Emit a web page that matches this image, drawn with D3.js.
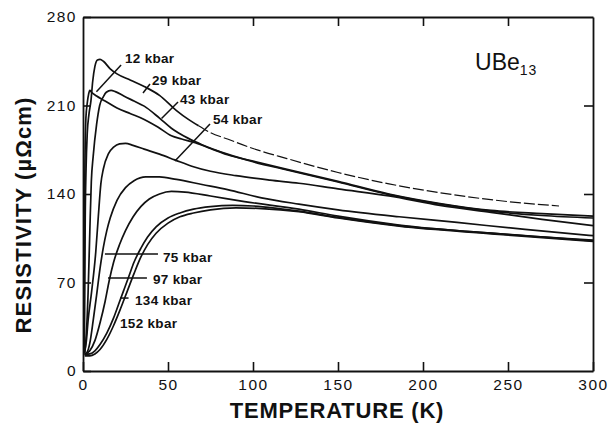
<!DOCTYPE html>
<html><head><meta charset="utf-8">
<script src="https://cdn.jsdelivr.net/npm/d3@7"></script>
<style>body{margin:0;background:#fff}svg{display:block}</style>
</head><body><svg id="chart" width="610" height="430"></svg>
<script>
// ---- data (temperature K, resistivity µΩcm) ----
const xTicks = [0, 50, 100, 150, 200, 250, 300];
const yTicks = [0, 70, 140, 210, 280];
const pressureLabels = ["12 kbar", "29 kbar", "43 kbar", "54 kbar", "75 kbar", "97 kbar", "134 kbar", "152 kbar"];

const s12 = [[0.6,15],[0.75,60],[0.9,120],[1.2,170],[1.7,200],[2.5,212],[3.3,219],[4,222],[5,220.5],[8,217.5],[12.7,213.8],[20,208],[28,203.5],[36,199],[44,193],[52,186],[58,183.5],[66,180.5],[75,176],[85,171],[100,166],[120,159.5],[150,150],[180,140],[210,132.5],[240,127],[270,124.5],[300,122.5]];
const s29 = [[0.8,15],[1.0,60],[1.3,120],[1.8,160],[2.5,188],[3.5,203],[4.7,214],[5.7,229],[7,241],[8.5,246],[10,246.5],[12,245],[16,239],[20,235],[28,230],[36,225],[45,218],[55,206],[62,199],[68,194]];
const s29tail = [[68,194],[75,188.5],[85,183.5],[100,176],[120,168],[150,157],[180,148],[210,141],[250,134],[280,130.5]];
const s43 = [[1,14],[2,30],[3,62],[4,110],[4.9,150],[6,170],[8,195],[9.8,210],[12,217],[13.7,220.5],[16.5,222],[19,221],[24,217.5],[30,213.5],[36,209.5],[45,200],[52,192],[56,188.5],[62,184],[70,179],[85,171.5],[100,165.5],[120,159],[150,149.5],[180,139.5],[210,132],[240,126.5],[270,123],[300,121]];
const s54 = [[0.8,14],[2,24],[3,40],[5,62],[7.5,94],[9,122],[10.5,148],[12,160],[15,172],[18,177],[21.5,179.6],[25,180],[29.4,178.5],[36,175.5],[45,171.5],[54,167],[64,162],[75,158],[90,154.5],[110,151],[127,148.5],[150,144],[180,138.5],[210,131],[240,125.5],[270,120],[300,115]];
const s75 = [[0.8,13],[2.5,15],[4,22],[6,40],[8,60],[10,81],[12,98],[14,111],[16,121],[20,135],[25,145],[30,150.5],[37,153.5],[45,153.5],[55,151.5],[70,147.5],[85,143.5],[105,137],[127,132],[150,127.5],[186,122],[220,117.5],[260,112],[300,107]];
const s97 = [[1,13],[4,16],[7,24],[10,38],[13,55],[15.5,72],[18,86],[21.5,100],[25,111],[29.5,122],[34,130],[39,136],[45,140],[52,142],[60,141.5],[75,138.4],[95,134],[127,128],[150,122.5],[186,115.5],[240,109],[300,103.5]];
const s134 = [[1,13],[4,13.5],[7,16],[10,21],[14,30],[18,42],[21,53],[24,64],[27,75],[30,86],[34,97],[38,106],[43,114],[50,121],[57,125],[65,128],[75,130],[88,131],[100,130.5],[115,128.5],[127,126.5],[150,121.5],[186,115],[240,109],[300,103]];
const s152 = [[1,12],[4,12],[7,13.5],[10,17],[14,25],[18,36],[22,49],[26,63],[30,77],[34,90],[38,100],[43,109],[50,117],[57,122],[65,125],[75,127.5],[90,129],[105,128.5],[127,126],[150,121],[186,114.5],[240,108.5],[300,102.5]];

// annotation anchors, in data units
const labelAnchors = [[24.7,243.6],[40.6,226.2],[57.1,211.2],[76.5,195.4],[47.1,86.2],[41.2,68.8],[30.6,52.2],[21.8,34.0]];
const leaders = [
  [[22.4,242.0],[7.9,220.9]],
  [[39.4,227.0],[35.3,219.9]],
  [[55.9,212.8],[46.2,199.7]],
  [[74.7,195.4],[54.1,166.1]],
  [[12.9,92.5],[44.1,92.5]],
  [[14.7,73.6],[37.6,73.6]],
  [[21.8,57.7],[26.8,57.7]]
];
const compoundAnchor = [230.6, 238.1];

// ---- layout ----
const svg = d3.select("#chart");
const x = d3.scaleLinear().domain([0, 300]).range([83, 593]);
const y = d3.scaleLinear().domain([0, 280]).range([371, 17]);
const ink = "#111";
const tickFont = "'Liberation Sans', Arial, Helvetica, sans-serif";

svg.append("rect").attr("width", 610).attr("height", 430).attr("fill", "#fff");

function styleAxis(g, showText) {
  g.select(".domain").attr("stroke", ink).attr("stroke-width", 1.8);
  g.selectAll(".tick line").attr("stroke", ink).attr("stroke-width", 1.6);
  g.selectAll(".tick text").attr("fill", ink)
    .style("font-family", tickFont).style("font-size", "15.5px").style("letter-spacing", "1.5px");
  if (!showText) g.selectAll(".tick text").remove();
}

svg.append("g").attr("transform", `translate(0,${y(0)})`)
  .call(d3.axisBottom(x).tickValues(xTicks).tickSize(-9).tickSizeOuter(0).tickPadding(8))
  .call(g => styleAxis(g, true));
svg.append("g").attr("transform", `translate(0,${y(280)})`)
  .call(d3.axisTop(x).tickValues(xTicks.slice(1, -1)).tickSize(-9).tickSizeOuter(0))
  .call(g => styleAxis(g, false));
svg.append("g").attr("transform", `translate(${x(0)},0)`)
  .call(d3.axisLeft(y).tickValues(yTicks).tickSize(-8).tickSizeOuter(0).tickPadding(6))
  .call(g => styleAxis(g, true));
svg.append("g").attr("transform", `translate(${x(300)},0)`)
  .call(d3.axisRight(y).tickValues(yTicks.slice(1, -1)).tickSize(-9).tickSizeOuter(0))
  .call(g => styleAxis(g, false));

// ---- curves ----
const line = d3.line().x(d => x(d[0])).y(d => y(d[1])).curve(d3.curveMonotoneX);
const series = [s12, s29, s43, s54, s75, s97, s134, s152];
svg.append("g").selectAll("path").data(series).join("path")
  .attr("d", line).attr("fill", "none").attr("stroke", ink)
  .attr("stroke-width", 1.7).attr("stroke-linejoin", "round");
svg.append("path").datum(s29tail).attr("d", line).attr("fill", "none")
  .attr("stroke", ink).attr("stroke-width", 1.2).attr("stroke-dasharray", "11,3");

// ---- leaders and labels ----
svg.append("g").selectAll("line").data(leaders).join("line")
  .attr("x1", d => x(d[0][0])).attr("y1", d => y(d[0][1]))
  .attr("x2", d => x(d[1][0])).attr("y2", d => y(d[1][1]))
  .attr("stroke", ink).attr("stroke-width", 1.5);

svg.append("g").selectAll("text").data(pressureLabels).join("text")
  .attr("x", (d, i) => x(labelAnchors[i][0])).attr("y", (d, i) => y(labelAnchors[i][1]))
  .attr("fill", ink).style("font-family", tickFont).style("font-size", "13.5px")
  .style("font-weight", "bold").style("letter-spacing", "0.3px").text(d => d);

const comp = svg.append("text").attr("x", x(compoundAnchor[0])).attr("y", y(compoundAnchor[1]))
  .attr("fill", ink).style("font-family", tickFont).style("font-size", "23px");
comp.append("tspan").text("UBe");
comp.append("tspan").attr("dy", 5).style("font-size", "14px").style("letter-spacing", "1px").text("13");

// ---- axis titles ----
svg.append("text").attr("x", 337).attr("y", 418).attr("text-anchor", "middle")
  .attr("fill", ink).style("font-family", tickFont).style("font-size", "22px")
  .style("font-weight", "bold").style("letter-spacing", "0.8px").text("TEMPERATURE (K)");
svg.append("text").attr("transform", "translate(31,215) rotate(-90)").attr("text-anchor", "middle")
  .attr("fill", ink).style("font-family", tickFont).style("font-size", "22px")
  .style("font-weight", "bold").style("letter-spacing", "1.1px").text("RESISTIVITY (µΩcm)");
</script></body></html>
